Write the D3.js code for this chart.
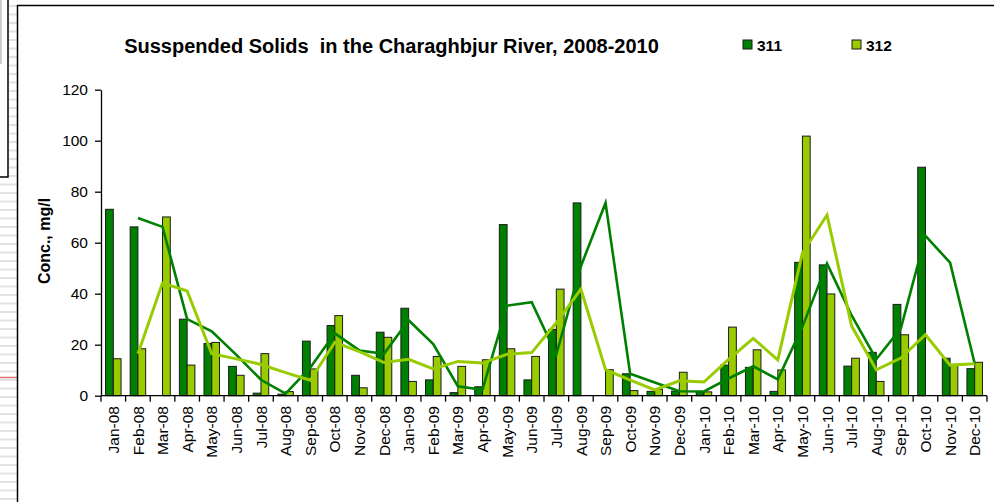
<!DOCTYPE html>
<html>
<head>
<meta charset="utf-8">
<script src="https://cdn.jsdelivr.net/npm/d3@7"></script>
<style>
    body { margin: 0; background: #fff; }
    text { font-family: "Liberation Sans", Arial, sans-serif; fill: #000; }
</style>
</head>
<body>
<div class="displayArea"></div>
<script>
// 数据
const months = [
    "Jan-08", "Feb-08", "Mar-08", "Apr-08", "May-08", "Jun-08", "Jul-08", "Aug-08", "Sep-08", "Oct-08", "Nov-08", "Dec-08",
    "Jan-09", "Feb-09", "Mar-09", "Apr-09", "May-09", "Jun-09", "Jul-09", "Aug-09", "Sep-09", "Oct-09", "Nov-09", "Dec-09",
    "Jan-10", "Feb-10", "Mar-10", "Apr-10", "May-10", "Jun-10", "Jul-10", "Aug-10", "Sep-10", "Oct-10", "Nov-10", "Dec-10"
];
const series311 = [
    73.1, 66.2, null, 30.0, 20.5, 11.5, 1.0, 0.6, 21.4, 27.5, 8.0, 24.9,
    34.3, 6.2, 1.2, 3.5, 67.1, 6.2, 26.0, 75.6, null, 8.6, 1.7, 1.8,
    1.5, 12.0, 11.1, 1.7, 52.3, 51.3, 11.6, 17.0, 35.8, 89.6, 14.7, 10.6
];
const series312 = [
    14.5, 18.4, 70.1, 12.0, 20.9, 8.0, 16.5, 1.6, 10.5, 31.4, 3.1, 22.9,
    5.6, 15.4, 11.5, 14.1, 18.4, 15.4, 41.8, null, 10.2, 2.0, 2.5, 9.2,
    1.5, 26.9, 18.0, 10.1, 101.8, 39.9, 14.7, 5.6, 23.9, null, 12.0, 13.1
];
const seriesNames = ["311", "312"];
const colors = { "311": "#008000", "312": "#99cc00" };
const yTicks = [0, 20, 40, 60, 80, 100, 120];
const title = "Susspended Solids  in the Charaghbjur River, 2008-2010";
const yLabel = "Conc., mg/l";

// 两点移动平均(跳过空值)
function movingAvg(values) {
    return values.map((v, i) => {
        if (i === 0) return null;
        const w = [values[i - 1], v].filter(d => d != null);
        return w.length ? d3.mean(w) : null;
    });
}

const width = 994, height = 502;

const svg = d3.select(".displayArea").append("svg")
    .attr("width", width)
    .attr("height", height);

// 左侧背景装饰
const deco = svg.append("g");
d3.range(6, height, 8.5).forEach(yy => {
    deco.append("line")
        .attr("x1", yy < 178 ? 9 : 0).attr("x2", 17)
        .attr("y1", yy).attr("y2", yy)
        .style("stroke", "#e2e2e2").style("stroke-width", 2);
});
deco.append("line")
    .attr("x1", 0).attr("x2", 17).attr("y1", 377.5).attr("y2", 377.5)
    .style("stroke", "#e07070").style("stroke-width", 1.5);
deco.append("path")
    .attr("d", "M0,177 H8 V0")
    .style("fill", "none").style("stroke", "#000").style("stroke-width", 1.5);
deco.append("line")
    .attr("x1", 1).attr("x2", 1).attr("y1", 0).attr("y2", 64)
    .style("stroke", "#bbb").style("stroke-width", 1.5);

// 图表外框
svg.append("rect")
    .attr("x", 17.5).attr("y", 5.5)
    .attr("width", 1000).attr("height", 600)
    .style("fill", "#fff").style("stroke", "#000").style("stroke-width", 1.5);

// 比例尺
const x = d3.scaleBand()
    .domain(months)
    .range([101, 987]);

const groupW = x.bandwidth() * 0.63;
const xSub = d3.scaleBand()
    .domain(seriesNames)
    .range([(x.bandwidth() - groupW) / 2, (x.bandwidth() + groupW) / 2]);

const y = d3.scaleLinear()
    .domain([0, 120])
    .range([395.7, 89.7]);

const plot = svg.append("g");

// 柱
const rows = months.map((m, i) => ({ m, "311": series311[i], "312": series312[i] }));
plot.selectAll(".grp")
    .data(rows)
    .enter()
    .append("g")
    .attr("transform", d => `translate(${x(d.m)},0)`)
    .selectAll("rect")
    .data(d => seriesNames.map(k => ({ k, v: d[k] })).filter(e => e.v != null))
    .enter()
    .append("rect")
    .attr("x", d => xSub(d.k))
    .attr("y", d => y(d.v))
    .attr("width", xSub.bandwidth())
    .attr("height", d => y(0) - y(d.v))
    .style("fill", d => colors[d.k])
    .style("stroke", "#1a1a1a")
    .style("stroke-width", 1);

// 移动平均线
const line = d3.line()
    .defined(d => d.v != null)
    .x(d => x(d.m) + x.bandwidth() / 2)
    .y(d => y(d.v));

[["311", series311, 2.6], ["312", series312, 3]].forEach(([k, vals, w]) => {
    const ma = movingAvg(vals).map((v, i) => ({ m: months[i], v }));
    plot.append("path")
        .datum(ma)
        .attr("d", line)
        .style("fill", "none")
        .style("stroke", colors[k])
        .style("stroke-width", w)
        .style("stroke-linejoin", "miter");
});

// Y 轴
const yAxis = svg.append("g")
    .attr("transform", "translate(101,0)")
    .call(d3.axisLeft(y).tickValues(yTicks).tickSize(6).tickSizeOuter(0).tickPadding(7));
yAxis.select(".domain").style("stroke", "#000").style("stroke-width", 1.3);
yAxis.selectAll(".tick line").style("stroke", "#000").style("stroke-width", 1.3);
yAxis.selectAll("text")
    .style("font-size", "15.5px")
    .style("font-family", "'Liberation Sans', Arial, sans-serif")
    .attr("fill", "#000");

// X 轴
const xAxis = svg.append("g");
xAxis.append("line")
    .attr("x1", 101).attr("x2", 987)
    .attr("y1", y(0)).attr("y2", y(0))
    .style("stroke", "#000").style("stroke-width", 1.3);
xAxis.selectAll(".xtick")
    .data(d3.range(months.length + 1))
    .enter()
    .append("line")
    .attr("x1", i => x.range()[0] + i * x.step())
    .attr("x2", i => x.range()[0] + i * x.step())
    .attr("y1", y(0)).attr("y2", y(0) + 6)
    .style("stroke", "#000").style("stroke-width", 1.3);
xAxis.selectAll(".xlab")
    .data(months)
    .enter()
    .append("text")
    .attr("transform", d => `translate(${x(d) + x.bandwidth() / 2},406) rotate(-90)`)
    .attr("dy", "0.36em")
    .attr("text-anchor", "end")
    .style("font-size", "15.5px")
    .text(d => d);

// 标题
svg.append("text")
    .attr("x", 391.5).attr("y", 52.5)
    .attr("text-anchor", "middle")
    .style("font-size", "20px")
    .style("font-weight", "bold")
    .style("white-space", "pre")
    .text(title);

// Y 轴标题
svg.append("text")
    .attr("transform", "translate(50,241) rotate(-90)")
    .attr("text-anchor", "middle")
    .style("font-size", "16px")
    .style("font-weight", "bold")
    .text(yLabel);

// 图例
const legend = svg.selectAll(".legend")
    .data(seriesNames)
    .enter()
    .append("g")
    .attr("transform", (d, i) => `translate(${743 + i * 109},40)`);
legend.append("rect")
    .attr("width", 9).attr("height", 9)
    .style("fill", d => colors[d])
    .style("stroke", "#1a1a1a").style("stroke-width", 1);
legend.append("text")
    .attr("x", 14).attr("y", 11)
    .style("font-size", "15.5px")
    .style("font-weight", "bold")
    .text(d => d);
</script>
</body>
</html>
